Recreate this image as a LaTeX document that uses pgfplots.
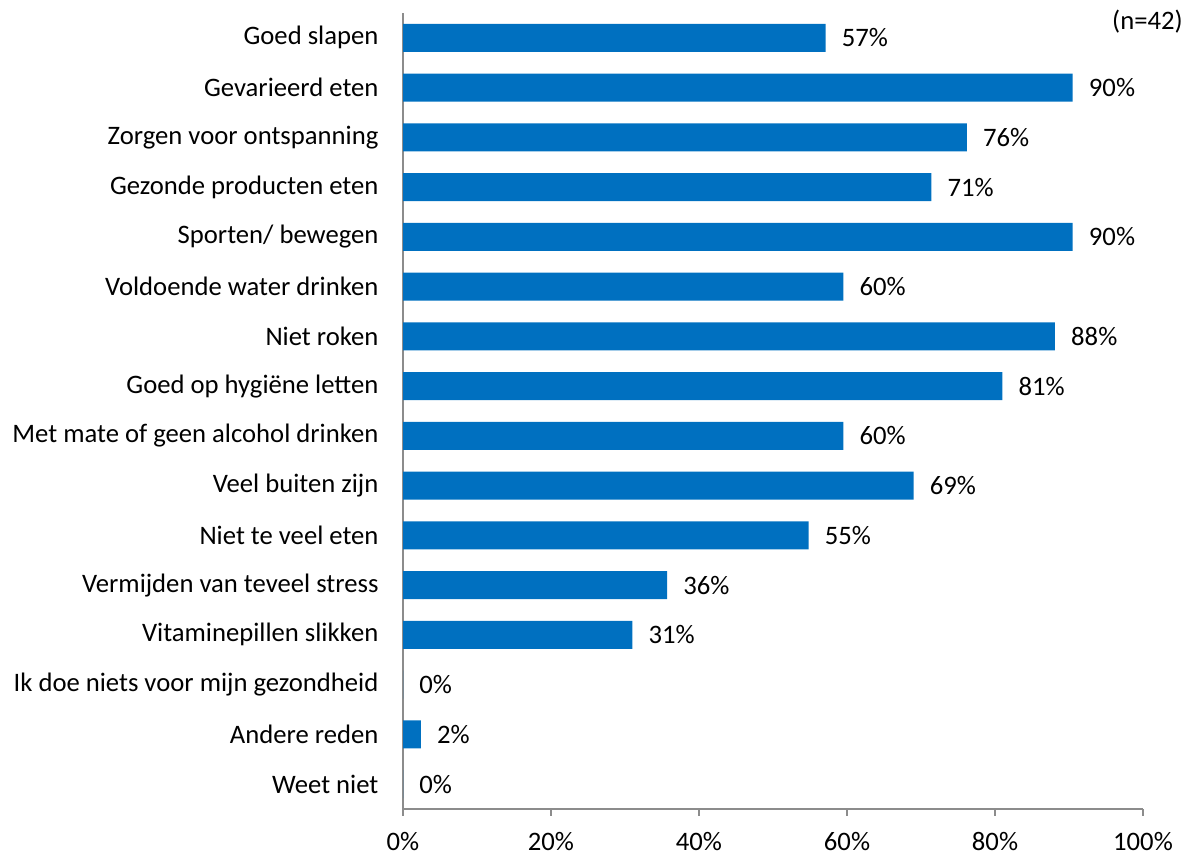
\documentclass[border=0pt]{standalone}
\usepackage{pgfplots}
\pgfplotsset{compat=1.18}
\usepackage{fontspec}
\setmainfont{Carlito}
\definecolor{barblue}{HTML}{0070C0}
\definecolor{axgray}{HTML}{8C8C8C}
\newcommand{\lbl}{\fontsize{20}{24}\selectfont}

\begin{document}
\begin{tikzpicture}
% 1 px of the reference = 0.75pt
\path[use as bounding box] (0,0) rectangle (893.25pt,641.25pt);
\begin{axis}[
  at={(302.25pt,34.5pt)}, anchor=south west,
  scale only axis, width=555pt, height=597pt,
  xbar, bar width=21pt, bar shift=0pt,
  xmin=0, xmax=100, ymin=-0.5, ymax=15.5,
  axis x line*=bottom, axis y line*=left,
  axis line style={axgray, line width=1.1pt},
  xtick={0,20,40,60,80,100},
  xticklabel={\pgfmathprintnumber{\tick}\%},
  /pgf/number format/assume math mode=true,
  tick align=outside,
  x tick style={axgray, line width=1.1pt},
  major tick length=5.25pt,
  ytick={0,...,15},
  y tick style={draw=none},
  yticklabels={Weet niet, Andere reden, Ik doe niets voor mijn gezondheid,
    Vitaminepillen slikken, Vermijden van teveel stress, Niet te veel eten,
    Veel buiten zijn, Met mate of geen alcohol drinken, Goed op hygiëne letten,
    Niet roken, Voldoende water drinken, Sporten/ bewegen,
    Gezonde producten eten, Zorgen voor ontspanning, Gevarieerd eten, Goed slapen},
  ticklabel style={font=\lbl},
  yticklabel style={anchor=east, inner sep=0pt, xshift=-13pt},
  xticklabel style={anchor=north, inner sep=0pt, yshift=-12pt},
  nodes near coords,
  point meta=explicit symbolic,
  every node near coord/.append style={font=\lbl, anchor=west, inner sep=0pt, xshift=12pt},
  clip=false,
]
\addplot[fill=barblue, draw=none] coordinates {
  (57.1,15) [57\%]
  (90.5,14) [90\%]
  (76.2,13) [76\%]
  (71.4,12) [71\%]
  (90.5,11) [90\%]
  (59.5,10) [60\%]
  (88.1,9)  [88\%]
  (81.0,8)  [81\%]
  (59.5,7)  [60\%]
  (69.0,6)  [69\%]
  (54.8,5)  [55\%]
  (35.7,4)  [36\%]
  (31.0,3)  [31\%]
  (0,2)     [0\%]
  (2.4,1)   [2\%]
  (0,0)     [0\%]
};
\node[font=\lbl, anchor=east, inner sep=0pt] at (rel axis cs:1,1) [xshift=30pt, yshift=-6.75pt] {(n=42)};
\end{axis}
\end{tikzpicture}
\end{document}
